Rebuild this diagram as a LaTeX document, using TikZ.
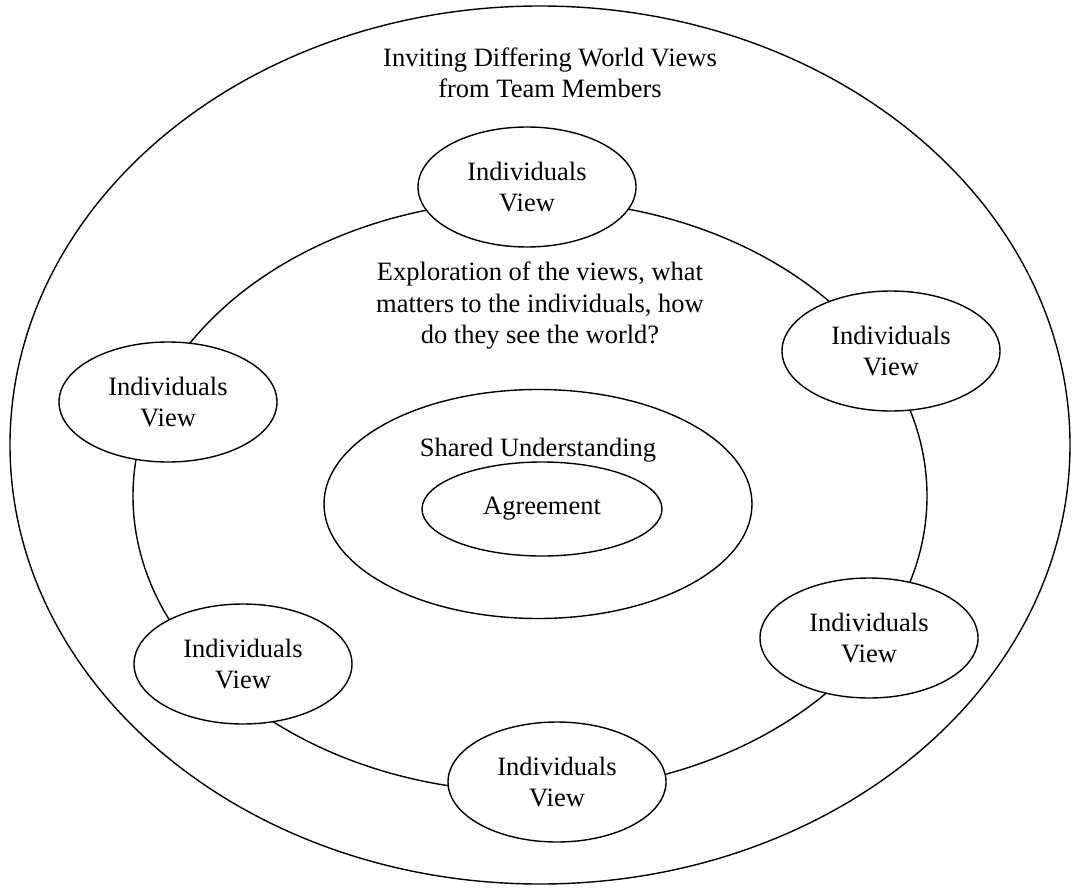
\documentclass[tikz,border=0pt]{standalone}
\usepackage{fontspec}
\setmainfont{Liberation Serif}
\usetikzlibrary{shapes.geometric}
\begin{document}
\begin{tikzpicture}[x=1pt,y=-1pt,
  ring/.style={draw=black,line width=1.4pt,ellipse,inner sep=0pt},
  viewbox/.style={ring,fill=white,minimum width=218pt,minimum height=120pt,align=center},
  txt/.style={align=center,inner sep=0pt},
  every node/.style={font=\fontsize{26.5}{31.5}\selectfont}]
\useasboundingbox (0,0) rectangle (1078,888);
\fill[white] (0,0) rectangle (1078,888);
% nested rings
\node[ring,minimum width=1060pt,minimum height=878pt] (outer) at (540,445) {};
\node[ring,minimum width=794pt,minimum height=592pt] (middle) at (530,496) {};
\node[ring,minimum width=428pt,minimum height=229pt] (shared) at (538,504) {};
\node[ring,minimum width=240pt,minimum height=94pt] (agree) at (542,509) {Agreement};
% ring captions
\node[txt] (outertxt) at (550,73) {Inviting Differing World Views\\from Team Members};
\node[txt] (middletxt) at (540,306) {Exploration of the views, what\\matters to the individuals, how\\do they see the world?};
\node[txt] (sharedtxt) at (538,450) {Shared Understanding};
% individual views sitting on the middle ring
\node[viewbox] (v1) at (527,187) {Individuals\\View};
\node[viewbox] (v2) at (891,351) {Individuals\\View};
\node[viewbox] (v3) at (168,402) {Individuals\\View};
\node[viewbox] (v4) at (869,638) {Individuals\\View};
\node[viewbox] (v5) at (243,664) {Individuals\\View};
\node[viewbox] (v6) at (557,782) {Individuals\\View};
\end{tikzpicture}
\end{document}
